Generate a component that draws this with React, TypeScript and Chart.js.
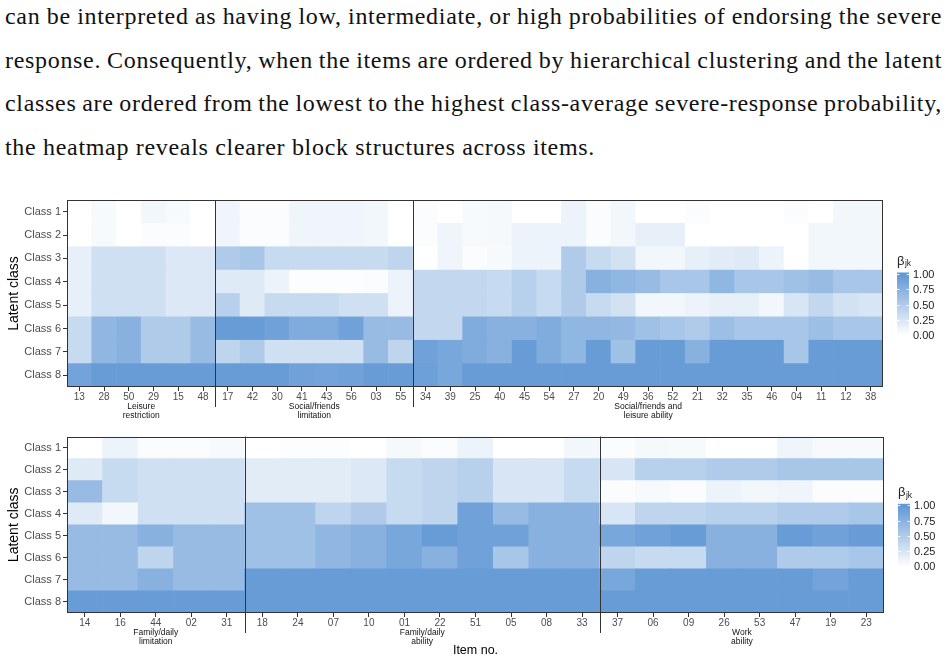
import React, { useEffect, useLayoutEffect, useRef } from 'react';
import { Chart, registerables } from 'chart.js';

Chart.register(...registerables);

// ---------- text ----------
const PARAGRAPH_LINES = [
  'can be interpreted as having low, intermediate, or high probabilities of endorsing the severe',
  'response. Consequently, when the items are ordered by hierarchical clustering and the latent',
  'classes are ordered from the lowest to the highest class-average severe-response probability,',
  'the heatmap reveals clearer block structures across items.',
];

// ---------- shared labels ----------
const CLASS_LABELS = ['Class 1', 'Class 2', 'Class 3', 'Class 4', 'Class 5', 'Class 6', 'Class 7', 'Class 8'];
const LEGEND_TICKS = [0, 0.25, 0.5, 0.75, 1];

// ---------- upper panel: leisure / social items ----------
const upperItems = [
  '13', '28', '50', '29', '15', '48',
  '17', '42', '30', '41', '43', '56', '03', '55',
  '34', '39', '25', '40', '45', '54', '27', '20', '49', '36', '52', '21', '32', '35', '46', '04', '11', '12', '38',
];
const upperGroupSizes = [6, 8, 19];
const upperGroupNames = [
  ['Leisure', 'restriction'],
  ['Social/friends', 'limitation'],
  ['Social/friends and', 'leisure ability'],
];
const upperClass1 = [0.00, 0.05, 0.00, 0.08, 0.05, 0.00, 0.10, 0.03, 0.03, 0.10, 0.10, 0.10, 0.08, 0.00, 0.03, 0.00, 0.05, 0.06, 0.00, 0.00, 0.12, 0.03, 0.08, 0.00, 0.00, 0.03, 0.00, 0.00, 0.00, 0.03, 0.00, 0.08, 0.08];
const upperClass2 = [0.00, 0.05, 0.00, 0.03, 0.03, 0.00, 0.10, 0.03, 0.03, 0.10, 0.10, 0.10, 0.08, 0.00, 0.03, 0.10, 0.05, 0.06, 0.12, 0.12, 0.12, 0.03, 0.08, 0.15, 0.15, 0.00, 0.00, 0.00, 0.00, 0.00, 0.08, 0.08, 0.08];
const upperClass3 = [0.15, 0.30, 0.30, 0.30, 0.22, 0.22, 0.50, 0.55, 0.35, 0.35, 0.35, 0.35, 0.35, 0.40, 0.00, 0.10, 0.03, 0.05, 0.12, 0.12, 0.50, 0.35, 0.28, 0.08, 0.08, 0.15, 0.18, 0.20, 0.12, 0.00, 0.08, 0.08, 0.08];
const upperClass4 = [0.15, 0.30, 0.30, 0.30, 0.22, 0.22, 0.20, 0.20, 0.12, 0.02, 0.02, 0.02, 0.03, 0.12, 0.38, 0.38, 0.38, 0.35, 0.45, 0.35, 0.50, 0.75, 0.70, 0.65, 0.55, 0.55, 0.70, 0.55, 0.55, 0.60, 0.65, 0.55, 0.55];
const upperClass5 = [0.15, 0.30, 0.30, 0.30, 0.22, 0.22, 0.45, 0.20, 0.35, 0.35, 0.35, 0.30, 0.30, 0.12, 0.38, 0.38, 0.38, 0.35, 0.45, 0.35, 0.50, 0.35, 0.28, 0.08, 0.08, 0.12, 0.15, 0.15, 0.08, 0.25, 0.38, 0.28, 0.25];
const upperClass6 = [0.35, 0.70, 0.75, 0.50, 0.50, 0.65, 0.95, 0.95, 0.90, 0.80, 0.80, 0.90, 0.65, 0.65, 0.38, 0.38, 0.80, 0.75, 0.75, 0.80, 0.70, 0.70, 0.68, 0.60, 0.55, 0.50, 0.62, 0.55, 0.55, 0.55, 0.62, 0.55, 0.55];
const upperClass7 = [0.35, 0.70, 0.75, 0.50, 0.50, 0.65, 0.40, 0.50, 0.30, 0.30, 0.30, 0.30, 0.65, 0.40, 0.90, 0.85, 0.80, 0.75, 0.95, 0.80, 0.70, 0.95, 0.60, 0.95, 0.95, 0.75, 0.95, 0.95, 0.95, 0.55, 0.95, 0.95, 0.95];
const upperClass8 = [0.88, 0.95, 0.95, 0.95, 0.95, 0.95, 0.95, 0.95, 0.95, 0.90, 0.88, 0.90, 0.95, 0.95, 0.92, 0.85, 0.95, 0.95, 0.95, 0.95, 0.95, 0.95, 0.95, 0.95, 0.95, 0.95, 0.95, 0.95, 0.95, 0.95, 0.95, 0.95, 0.95];

// ---------- lower panel: family / work items ----------
const lowerItems = [
  '14', '16', '44', '02', '31',
  '18', '24', '07', '10', '01', '22', '51', '05', '08', '33',
  '37', '06', '09', '26', '53', '47', '19', '23',
];
const lowerGroupSizes = [5, 10, 8];
const lowerGroupNames = [
  ['Family/daily', 'limitation'],
  ['Family/daily', 'ability'],
  ['Work', 'ability'],
];
const lowerClass1 = [0.00, 0.12, 0.03, 0.03, 0.05, 0.00, 0.02, 0.02, 0.00, 0.06, 0.03, 0.12, 0.00, 0.00, 0.08, 0.03, 0.06, 0.05, 0.00, 0.00, 0.10, 0.05, 0.05];
const lowerClass2 = [0.20, 0.35, 0.30, 0.30, 0.30, 0.18, 0.18, 0.18, 0.22, 0.35, 0.40, 0.45, 0.25, 0.25, 0.35, 0.25, 0.45, 0.45, 0.50, 0.50, 0.55, 0.55, 0.55];
const lowerClass3 = [0.65, 0.35, 0.30, 0.30, 0.30, 0.18, 0.18, 0.18, 0.22, 0.35, 0.40, 0.45, 0.25, 0.25, 0.35, 0.03, 0.05, 0.03, 0.12, 0.08, 0.10, 0.03, 0.03];
const lowerClass4 = [0.20, 0.08, 0.30, 0.30, 0.30, 0.60, 0.60, 0.40, 0.50, 0.35, 0.40, 0.90, 0.65, 0.75, 0.75, 0.25, 0.40, 0.40, 0.45, 0.45, 0.50, 0.50, 0.55];
const lowerClass5 = [0.65, 0.65, 0.75, 0.65, 0.65, 0.60, 0.60, 0.70, 0.75, 0.85, 0.95, 0.90, 0.90, 0.75, 0.75, 0.85, 0.90, 0.95, 0.75, 0.75, 0.95, 0.90, 0.95];
const lowerClass6 = [0.65, 0.65, 0.40, 0.65, 0.65, 0.60, 0.60, 0.70, 0.75, 0.85, 0.75, 0.90, 0.55, 0.75, 0.75, 0.40, 0.35, 0.35, 0.75, 0.75, 0.50, 0.50, 0.55];
const lowerClass7 = [0.65, 0.65, 0.75, 0.65, 0.65, 0.95, 0.95, 0.95, 0.95, 0.95, 0.95, 0.95, 0.95, 0.95, 0.95, 0.85, 0.95, 0.95, 0.95, 0.95, 0.95, 0.88, 0.95];
const lowerClass8 = [0.95, 0.95, 0.95, 0.95, 0.95, 0.95, 0.95, 0.95, 0.95, 0.95, 0.95, 0.95, 0.95, 0.95, 0.95, 0.95, 0.95, 0.95, 0.95, 0.95, 0.95, 0.95, 0.95];

// ---------- styling ----------
const SANS = '"Liberation Sans", Arial, Helvetica, sans-serif';
const LOW_RGB = [255, 255, 255];
const HIGH_RGB = [96, 151, 213];

function fillFor(v: number): string {
  const t = Math.max(0, Math.min(1, v));
  const c = LOW_RGB.map((lo, i) => Math.round(lo + (HIGH_RGB[i] - lo) * t));
  return `rgb(${c[0]},${c[1]},${c[2]})`;
}

type PanelProps = {
  items: string[];
  groupSizes: number[];
  groupNames: string[][];
  rows: number[][];
  width: number;
  height: number;
  padTop: number;
  padRight: number;
  xAxisHeight: number;
  xTitle?: string;
};

function HeatPanel(props: PanelProps) {
  const ref = useRef<HTMLCanvasElement | null>(null);

  useEffect(() => {
    const canvas = ref.current;
    if (!canvas) return;
    const { items, groupSizes, groupNames, rows, padTop, padRight, xAxisHeight, xTitle } = props;

    // stacked bars: bottom dataset is the last class
    const datasets = rows
      .map((vals, r) => ({
        label: CLASS_LABELS[r],
        data: vals.map(() => 1),
        backgroundColor: vals.map(fillFor),
        borderWidth: 0,
        barPercentage: 1,
        categoryPercentage: 1,
      }))
      .reverse();

    const decor = {
      id: 'panelDecor',
      afterDraw(chart: any) {
        const { ctx, chartArea: a } = chart;
        const x = chart.scales.x;
        ctx.save();

        // group dividers and group captions
        let start = 0;
        groupSizes.forEach((n, g) => {
          const first = start;
          const last = start + n - 1;
          const leftPx = first === 0 ? a.left : (x.getPixelForValue(first - 1) + x.getPixelForValue(first)) / 2;
          const rightPx = last === items.length - 1 ? a.right : (x.getPixelForValue(last) + x.getPixelForValue(last + 1)) / 2;
          if (g > 0) {
            const lx = Math.round(leftPx) + 0.5;
            ctx.strokeStyle = '#333333';
            ctx.lineWidth = 1;
            ctx.beginPath();
            ctx.moveTo(lx, a.top);
            ctx.lineTo(lx, a.bottom + 20);
            ctx.stroke();
          }
          ctx.fillStyle = '#111111';
          ctx.font = `8.5px ${SANS}`;
          ctx.textAlign = 'center';
          ctx.textBaseline = 'middle';
          groupNames[g].forEach((line, i) => {
            ctx.fillText(line, (leftPx + rightPx) / 2, a.bottom + 20 + i * 9);
          });
          start += n;
        });

        // panel border
        ctx.strokeStyle = '#333333';
        ctx.lineWidth = 1;
        ctx.strokeRect(Math.round(a.left) + 0.5, Math.round(a.top) + 0.5, Math.round(a.width) - 1, Math.round(a.height) - 1);

        // colour bar legend
        const barX = a.right + 14;
        const barW = 12;
        const mid = (a.top + a.bottom) / 2 + 11;
        const yHigh = mid - 30.5;
        const yLow = mid + 30.5;
        const barTop = yHigh - 1.5;
        const barBottom = yLow + 1.5;
        const grad = ctx.createLinearGradient(0, yHigh, 0, yLow);
        for (let s = 0; s <= 10; s++) grad.addColorStop(s / 10, fillFor(1 - s / 10));
        ctx.fillStyle = grad;
        ctx.fillRect(barX, barTop, barW, barBottom - barTop);

        ctx.strokeStyle = 'rgba(255,255,255,0.9)';
        ctx.lineWidth = 1;
        ctx.font = `11px ${SANS}`;
        ctx.textAlign = 'left';
        ctx.textBaseline = 'middle';
        LEGEND_TICKS.forEach((v) => {
          const ty = Math.round(yLow - (yLow - yHigh) * v) + 0.5;
          ctx.beginPath();
          ctx.moveTo(barX, ty);
          ctx.lineTo(barX + 2.5, ty);
          ctx.moveTo(barX + barW - 2.5, ty);
          ctx.lineTo(barX + barW, ty);
          ctx.stroke();
          ctx.fillStyle = '#222222';
          ctx.fillText(v.toFixed(2), barX + barW + 4, ty);
        });

        // legend title: beta with subscript jk
        ctx.fillStyle = '#222222';
        ctx.font = `13px ${SANS}`;
        ctx.textBaseline = 'middle';
        const ty = yHigh - 13;
        ctx.fillText('\u03B2', barX, ty);
        const bw = ctx.measureText('\u03B2').width;
        ctx.font = `8.5px ${SANS}`;
        ctx.fillText('jk', barX + bw + 0.5, ty + 3);

        ctx.restore();
      },
    };

    const chart = new Chart(canvas, {
      type: 'bar',
      data: { labels: items, datasets },
      options: {
        responsive: false,
        animation: false,
        devicePixelRatio: 1,
        layout: { padding: { top: padTop, right: padRight, left: 0, bottom: 0 } },
        plugins: { legend: { display: false }, tooltip: { enabled: false } },
        scales: {
          x: {
            type: 'category',
            stacked: true,
            offset: true,
            border: { display: false },
            grid: { offset: false, drawOnChartArea: false, drawTicks: true, tickLength: 4, color: '#333333', lineWidth: 1 },
            ticks: { color: '#4d4d4d', font: { family: SANS, size: 10 }, padding: 0, maxRotation: 0, autoSkip: false },
            title: xTitle
              ? { display: true, text: xTitle, color: '#000000', font: { family: SANS, size: 12.5 }, padding: { top: 0, bottom: 3 } }
              : { display: false },
            afterFit: (s: any) => {
              s.height = xAxisHeight;
            },
          },
          y: {
            type: 'linear',
            stacked: true,
            min: 0,
            max: 8,
            border: { display: false },
            grid: { drawOnChartArea: false, drawTicks: true, tickLength: 4, color: '#333333', lineWidth: 1 },
            afterBuildTicks: (s: any) => {
              s.ticks = [0.5, 1.5, 2.5, 3.5, 4.5, 5.5, 6.5, 7.5].map((v) => ({ value: v }));
            },
            ticks: {
              color: '#4d4d4d',
              font: { family: SANS, size: 11 },
              padding: 2,
              callback: (v: any) => CLASS_LABELS[7 - Math.floor(Number(v))],
            },
            title: { display: true, text: 'Latent class', color: '#000000', font: { family: SANS, size: 14 }, padding: { top: 6, bottom: 0 } },
            afterFit: (s: any) => {
              s.width = 67;
            },
          },
        },
      },
      plugins: [decor],
    });

    return () => chart.destroy();
  }, []);

  return <canvas ref={ref} width={props.width} height={props.height} style={{ display: 'block', width: props.width, height: props.height }} />;
}

function Paragraph() {
  const refs = useRef<(HTMLSpanElement | null)[]>([]);
  const fullWidth = 937;
  const lastWidth = 590;

  // letter spacing sized from the short closing line, then the full lines
  // are justified with extra inter-word space
  useLayoutEffect(() => {
    const els = refs.current;
    const lastEl = els[els.length - 1];
    if (!lastEl) return;
    els.forEach((el) => {
      if (el) {
        el.style.letterSpacing = '0px';
        el.style.wordSpacing = '0px';
      }
    });
    const lastText = lastEl.textContent || '';
    const ls = Math.max(0, (lastWidth - lastEl.getBoundingClientRect().width) / lastText.length);
    els.forEach((el, i) => {
      if (!el) return;
      el.style.letterSpacing = `${ls}px`;
      if (i === els.length - 1) return;
      const w = el.getBoundingClientRect().width;
      const gaps = ((el.textContent || '').match(/ /g) || []).length;
      if (gaps > 0) el.style.wordSpacing = `${(fullWidth - w) / gaps}px`;
    });
  }, []);

  const tops = [3, 47, 90, 134];
  return (
    <>
      {PARAGRAPH_LINES.map((line, i) => (
        <div
          key={i}
          style={{
            position: 'absolute',
            left: 5,
            top: tops[i],
            whiteSpace: 'nowrap',
            fontFamily: '"Liberation Serif", "Times New Roman", serif',
            fontSize: 24,
            lineHeight: '27px',
            color: '#111',
          }}
        >
          <span ref={(el) => { refs.current[i] = el; }}>{line}</span>
        </div>
      ))}
    </>
  );
}

export default function App() {
  const upperRows = [upperClass1, upperClass2, upperClass3, upperClass4, upperClass5, upperClass6, upperClass7, upperClass8];
  const lowerRows = [lowerClass1, lowerClass2, lowerClass3, lowerClass4, lowerClass5, lowerClass6, lowerClass7, lowerClass8];
  return (
    <div style={{ position: 'fixed', left: 0, top: 0, width: 947, height: 661, background: '#ffffff', overflow: 'hidden' }}>
      <Paragraph />
      <div style={{ position: 'absolute', left: 0, top: 190 }}>
        <HeatPanel
          items={upperItems}
          groupSizes={upperGroupSizes}
          groupNames={upperGroupNames}
          rows={upperRows}
          width={947}
          height={238}
          padTop={10}
          padRight={64}
          xAxisHeight={41}
        />
      </div>
      <div style={{ position: 'absolute', left: 0, top: 428 }}>
        <HeatPanel
          items={lowerItems}
          groupSizes={lowerGroupSizes}
          groupNames={lowerGroupNames}
          rows={lowerRows}
          width={947}
          height={233}
          padTop={7}
          padRight={63}
          xAxisHeight={48}
          xTitle="Item no."
        />
      </div>
    </div>
  );
}
